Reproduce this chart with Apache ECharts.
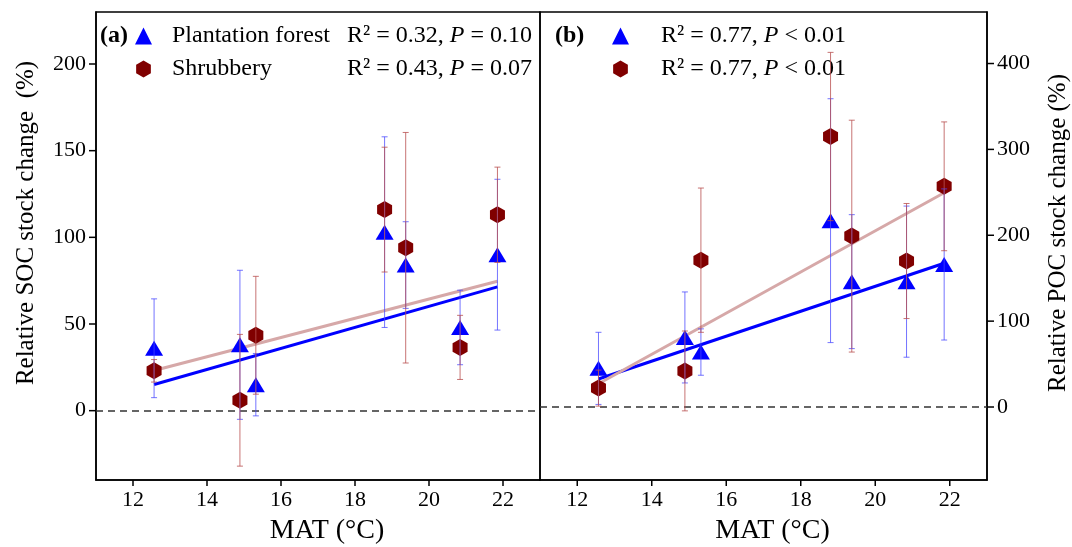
<!DOCTYPE html>
<html>
<head>
<meta charset="utf-8">
<script src="https://cdn.jsdelivr.net/npm/echarts@6/dist/echarts.min.js"></script>
<style>
  html, body { margin: 0; padding: 0; background: #fff; }
  #chart { width: 1072px; height: 547px; }
</style>
</head>
<body>
<div id="chart"></div>
<script>
// MAT of the seven sites (°C)
const mat = [12.57, 14.89, 15.32, 18.80, 19.37, 20.84, 21.85]

// SOC stock change (%) and error
const socPlant = [36, 38, 15, 103, 84, 48, 90]
const socPlantErr = [28.5, 43, 18, 55, 25, 21.5, 43.5]
const socShrub = [23, 6, 43.5, 116, 94, 36.5, 113]
const socShrubErr = [6.5, 38, 34, 36, 66.5, 18.5, 27.5]

// POC stock change (%) and error
const pocPlant = [45, 81, 64, 217, 146, 146, 166]
const pocPlantErr = [42, 53, 27, 142, 78, 88, 88]
const pocShrub = [22, 42, 171, 315, 199, 170, 257]
const pocShrubErr = [21, 46.5, 84, 98, 135, 67, 75]

// fitted lines (ends)
const fitX = [12.57, 21.85]
const socPlantFit = [15.1, 71.4]
const socShrubFit = [23.2, 74.7]
const pocPlantFit = [32.6, 167.4]
const pocShrubFit = [27.1, 249.5]

// stats text
const names = ['Plantation forest', 'Shrubbery']
const socR2 = ['0.32', '0.43']
const socP = ['= 0.10', '= 0.07']
const pocR2 = ['0.77', '0.77']
const pocP = ['< 0.01', '< 0.01']

// axis ranges and ticks
const xRange = [11, 23]
const socRange = [-40, 230]
const pocRange = [-85, 460]
const xTicks = [12, 14, 16, 18, 20, 22]
const socTicks = [0, 50, 100, 150, 200]
const pocTicks = [0, 100, 200, 300, 400]

const FONT = 'Liberation Serif'
const hexagon = 'path://M0,-1 L0.866,-0.5 L0.866,0.5 L0,1 L-0.866,0.5 L-0.866,-0.5 Z'

const pairs = (xs, ys) => xs.map((x, i) => [x, ys[i]])
const triples = (xs, ys, es) => xs.map((x, i) => [x, ys[i], es[i]])

function errorBars(name, idx, data, color){
  return {
    name: name,
    type: 'custom',
    xAxisIndex: idx,
    yAxisIndex: idx,
    z: 5,
    silent: true,
    encode: { x: 0, y: 1 },
    data: data,
    renderItem: function (params, api) {
      const x = api.value(0), y = api.value(1), e = api.value(2)
      const top = api.coord([x, y + e])
      const bot = api.coord([x, y - e])
      const style = { stroke: color, lineWidth: 1 }
      return {
        type: 'group',
        children: [
          { type: 'line', shape: { x1: top[0], y1: top[1], x2: bot[0], y2: bot[1] }, style: style },
          { type: 'line', shape: { x1: top[0] - 3, y1: top[1], x2: top[0] + 3, y2: top[1] }, style: style },
          { type: 'line', shape: { x1: bot[0] - 3, y1: bot[1], x2: bot[0] + 3, y2: bot[1] }, style: style }
        ]
      }
    }
  }
}

function fitLine(name, idx, data, color){
  return {
    name: name,
    type: 'line',
    xAxisIndex: idx,
    yAxisIndex: idx,
    z: 1,
    silent: true,
    symbol: 'none',
    lineStyle: { color: color, width: 3 },
    data: data
  }
}

function points(name, idx, data, isTri){
  return {
    name: name,
    type: 'scatter',
    xAxisIndex: idx,
    yAxisIndex: idx,
    z: 3,
    symbol: isTri ? 'triangle' : hexagon,
    symbolSize: isTri ? [18, 15] : [15, 17],
    itemStyle: { color: isTri ? '#0000ff' : '#800000', opacity: 1 },
    data: data
  }
}

function xAxis(idx){
  return {
    type: 'value',
    gridIndex: idx,
    min: xRange[0],
    max: xRange[1],
    axisLine: { show: true, onZero: false, lineStyle: { color: '#000', width: 1.5 } },
    axisTick: { show: false },
    axisLabel: { customValues: xTicks, fontSize: 22, fontFamily: FONT, color: '#000', margin: 9 },
    splitLine: { show: false },
    name: 'MAT (°C)',
    nameLocation: 'middle',
    nameGap: 37,
    nameTextStyle: { fontSize: 28, fontFamily: FONT, color: '#000', padding: [0, 0, 0, 18] }
  }
}

function yAxis(idx, range, ticks, pos){
  return {
    type: 'value',
    gridIndex: idx,
    position: pos,
    min: range[0],
    max: range[1],
    axisLine: { show: true, onZero: false, lineStyle: { color: '#000', width: 1.5 } },
    axisTick: { show: false },
    axisLabel: { customValues: ticks, fontSize: 22, fontFamily: FONT, color: '#000', margin: 10 },
    splitLine: { show: false }
  }
}

function legend(left, spacer, r2, p, nameWidth){
  return {
    left: left,
    top: 24,
    padding: 0,
    orient: 'vertical',
    selectedMode: false,
    data: names,
    itemWidth: 17,
    itemHeight: 17,
    itemGap: 9,
    formatter: function (name) {
      const i = names.indexOf(name)
      const head = nameWidth ? '{n|' + name + '}' : ''
      return '{s|}' + head + '{r|R² = ' + r2[i] + ', }{i|P}{r| ' + p[i] + '}'
    },
    textStyle: {
      fontFamily: FONT, fontSize: 24, color: '#000',
      rich: {
        s: { width: spacer, lineHeight: 24 },
        n: { fontFamily: FONT, fontSize: 24, width: nameWidth || 0, lineHeight: 24 },
        r: { fontFamily: FONT, fontSize: 24, lineHeight: 24 },
        i: { fontFamily: FONT, fontSize: 24, fontStyle: 'italic', lineHeight: 24 }
      }
    }
  }
}

const zeroLine = {
  silent: true,
  symbol: 'none',
  label: { show: false },
  lineStyle: { color: '#333', type: [7, 5], width: 1.5 },
  data: [{ yAxis: 0 }]
}

const chart = echarts.init(document.getElementById('chart'), null, { renderer: 'canvas' })

const socPlantFitLine = fitLine('socPlantFit', 0, pairs(fitX, socPlantFit), '#0000ff')
socPlantFitLine.markLine = zeroLine
const pocPlantFitLine = fitLine('pocPlantFit', 1, pairs(fitX, pocPlantFit), '#0000ff')
pocPlantFitLine.markLine = zeroLine

const titleStyle = { fontFamily: FONT, fontSize: 24, fontWeight: 'bold', color: '#000' }

const axisTitles = [
  { type: 'text', x: 26, y: 223, rotation: Math.PI / 2,
    style: { text: 'Relative SOC stock change  (%)', font: '25px "Liberation Serif"', fill: '#000', textAlign: 'center', textVerticalAlign: 'middle' } },
  { type: 'text', x: 1058, y: 233, rotation: Math.PI / 2,
    style: { text: 'Relative POC stock change (%)', font: '25px "Liberation Serif"', fill: '#000', textAlign: 'center', textVerticalAlign: 'middle' } }
]

chart.setOption({
  animation: false,
  backgroundColor: '#fff',
  title: [
    { text: '(a)', left: 100, top: 24, padding: 0, textStyle: titleStyle },
    { text: '(b)', left: 555, top: 24, padding: 0, textStyle: titleStyle }
  ],
  legend: [
    legend(135, 15, socR2, socP, 175),
    legend(612, 27, pocR2, pocP, 0)
  ],
  grid: [
    { left: 96, top: 12, width: 444, height: 468, outerBoundsMode: 'none', show: true, borderColor: '#000', borderWidth: 1.5 },
    { left: 540, top: 12, width: 447, height: 468, outerBoundsMode: 'none', show: true, borderColor: '#000', borderWidth: 1.5 }
  ],
  xAxis: [xAxis(0), xAxis(1)],
  yAxis: [
    yAxis(0, socRange, socTicks, 'left'),
    yAxis(1, pocRange, pocTicks, 'right')
  ],
  graphic: axisTitles,
  series: [
    socPlantFitLine,
    fitLine('socShrubFit', 0, pairs(fitX, socShrubFit), '#d6a8a8'),
    points('Plantation forest', 0, pairs(mat, socPlant), true),
    points('Shrubbery', 0, pairs(mat, socShrub), false),
    errorBars('socPlantErr', 0, triples(mat, socPlant, socPlantErr), 'rgba(70,70,255,0.75)'),
    errorBars('socShrubErr', 0, triples(mat, socShrub, socShrubErr), 'rgba(185,80,80,0.8)'),

    pocPlantFitLine,
    fitLine('pocShrubFit', 1, pairs(fitX, pocShrubFit), '#d6a8a8'),
    points('Plantation forest', 1, pairs(mat, pocPlant), true),
    points('Shrubbery', 1, pairs(mat, pocShrub), false),
    errorBars('pocPlantErr', 1, triples(mat, pocPlant, pocPlantErr), 'rgba(70,70,255,0.75)'),
    errorBars('pocShrubErr', 1, triples(mat, pocShrub, pocShrubErr), 'rgba(185,80,80,0.8)')
  ]
})

// outward tick marks, placed through each grid's scales
function tick(gridIndex, value, dx, dy){
  const p = chart.convertToPixel({ gridIndex: gridIndex }, value)
  return { type: 'line', z: 100, silent: true,
    shape: { x1: p[0], y1: p[1], x2: p[0] + dx, y2: p[1] + dy },
    style: { stroke: '#000', lineWidth: 1.5 } }
}
const ticks = [].concat(
  xTicks.map(v => tick(0, [v, socRange[0]], 0, 6)),
  socTicks.map(v => tick(0, [xRange[0], v], -7, 0)),
  xTicks.map(v => tick(1, [v, pocRange[0]], 0, 6)),
  pocTicks.map(v => tick(1, [xRange[1], v], 7, 0))
)
chart.setOption({ graphic: axisTitles.concat(ticks) })
</script>
</body>
</html>
